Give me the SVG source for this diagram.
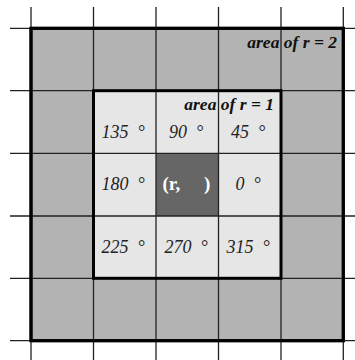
<svg xmlns="http://www.w3.org/2000/svg" width="355" height="360" viewBox="0 0 355 360" xml:space="preserve">
<style>
.grid{stroke:#222;stroke-width:1.3;fill:none}
.thick{stroke:#000;stroke-width:3;}
.ang{font-family:"Liberation Serif","Times New Roman",serif;font-style:italic;font-size:18px;fill:#222;text-anchor:middle;white-space:pre}
.lbl{font-family:"Liberation Serif","Times New Roman",serif;font-style:italic;font-weight:bold;font-size:17.5px;fill:#111;text-anchor:end}
.ctr{font-family:"Liberation Serif","Times New Roman",serif;font-weight:bold;font-size:19px;fill:#fff;white-space:pre}
</style>
<rect width="355" height="360" fill="#fff"/>
<g id="area-r2">
<rect class="thick" x="31" y="28.3" width="312.3" height="312.4" fill="#b3b3b3"/>
</g>
<g id="area-r1">
<rect x="93.5" y="90.7" width="187.5" height="187.6" fill="#e6e6e6"/>
</g>
<g id="center">
<rect x="156" y="153.3" width="62.5" height="62.7" fill="#666"/>
</g>
<g id="grid">
<path class="grid" d="M31 7V360M93.5 7V360M156 7V360M218.5 7V360M281 7V360M343.3 7V360M10 28.3H355M10 90.7H355M10 153.3H355M10 216H355M10 278.3H355M10 340.7H355"/>
</g>
<g id="borders">
<rect class="thick" x="31" y="28.3" width="312.3" height="312.4" fill="none"/>
<rect class="thick" x="93.5" y="90.7" width="187.5" height="187.6" fill="none"/>
</g>
<g id="labels">
<text class="lbl" x="337" y="48">area of r = 2</text>
<text class="lbl" x="274" y="110">area of r = 1</text>
</g>
<g id="angles">
<text class="ang" x="123" y="138">135  °</text>
<text class="ang" x="186" y="138">90  °</text>
<text class="ang" x="248" y="138">45  °</text>
<text class="ang" x="123" y="190">180  °</text>
<text class="ang" x="248" y="190">0  °</text>
<text class="ang" x="123" y="253">225  °</text>
<text class="ang" x="186" y="253">270  °</text>
<text class="ang" x="248" y="253">315  °</text>
<text class="ctr" x="162.5" y="190">(r,     )</text>
</g>
</svg>
